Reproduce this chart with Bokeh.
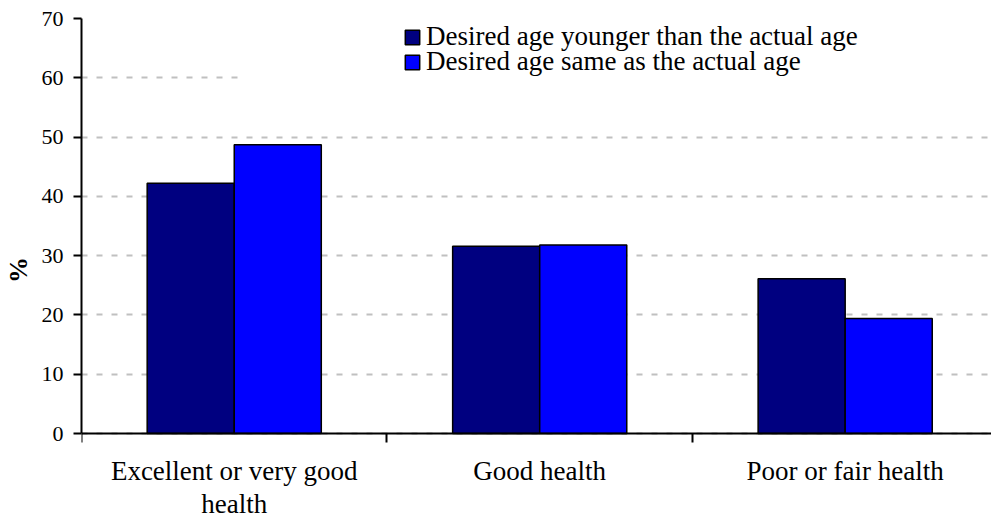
from bokeh.plotting import figure
from bokeh.models import (Range1d, FixedTicker, Legend, LegendItem, BoxAnnotation,
                          ColumnDataSource)
from bokeh.transform import dodge
from bokeh.embed import file_html
from bokeh.resources import INLINE

# ---- data ----
categories = ["Excellent or very good\nhealth", "Good health", "Poor or fair health"]
younger = [42.2, 31.6, 26.1]
same = [48.7, 31.8, 19.4]
y_ticks = [0, 10, 20, 30, 40, 50, 60, 70]
series_names = ["Desired age younger than the actual age",
                "Desired age same as the actual age"]

FONT = "Liberation Serif"
centers = [i + 0.5 for i in range(len(categories))]
src = ColumnDataSource(dict(x=centers, younger=younger, same=same))

# frame spans the whole height; value 0 sits 88px above the bottom
W, H, LEFT, TOP, BOTTOM_GAP, PLOT_H = 991, 521, 81, 18, 88, 415
y_min = -BOTTOM_GAP * 70.0 / PLOT_H

p = figure(width=W, height=H, output_backend="svg", toolbar_location=None,
           x_range=Range1d(0, 2.979), y_range=Range1d(y_min, 70),
           min_border_left=LEFT, min_border_top=TOP, min_border_bottom=0,
           min_border_right=0)
p.outline_line_color = None
p.background_fill_color = "white"

bw = 0.285
r1 = p.vbar(x=dodge("x", -bw / 2, range=p.x_range), top="younger", bottom=0,
            width=bw, source=src, fill_color="#000080", line_color="black",
            line_width=1.5)
r2 = p.vbar(x=dodge("x", bw / 2, range=p.x_range), top="same", bottom=0,
            width=bw, source=src, fill_color="#0000FF", line_color="black",
            line_width=1.5)

# grid
p.xgrid.visible = False
p.ygrid.ticker = FixedTicker(ticks=y_ticks)
p.ygrid.grid_line_color = "#c0c0c0"
p.ygrid.grid_line_width = 2
p.ygrid.grid_line_dash = "6 9"

# y axis
ya = p.yaxis[0]
ya.ticker = FixedTicker(ticks=y_ticks)
ya.bounds = (0, 70)
ya.axis_line_width = 2
ya.axis_line_color = "black"
ya.major_tick_line_width = 2
ya.major_tick_out = 8
ya.major_tick_in = 0
ya.minor_tick_line_color = None
ya.major_label_text_font = FONT
ya.major_label_text_font_size = "22px"
ya.major_label_text_color = "black"
ya.major_label_standoff = 10
ya.axis_label = "%"
ya.axis_label_text_font = FONT
ya.axis_label_text_font_size = "26px"
ya.axis_label_text_font_style = "bold"
ya.axis_label_text_color = "black"
ya.axis_label_standoff = 6

# x axis drawn at value 0: labels at centres, ticks at category boundaries
xa = p.xaxis[0]
xa.fixed_location = 0
xa.ticker = FixedTicker(ticks=centers, minor_ticks=[0, 1, 2, 3])
xa.major_label_overrides = {c: lab for c, lab in zip(centers, categories)}
xa.axis_line_width = 2
xa.axis_line_color = "black"
xa.major_tick_line_color = None
xa.major_tick_out = 0
xa.major_tick_in = 0
xa.minor_tick_line_color = "black"
xa.minor_tick_line_width = 2
xa.minor_tick_out = 9
xa.minor_tick_in = 0
xa.major_label_text_font = FONT
xa.major_label_text_font_size = "27px"
xa.major_label_text_color = "black"
xa.major_label_text_line_height = 1.12
xa.major_label_standoff = 13

# white box behind legend (hides grid line)
box = BoxAnnotation(left=0.53, right=3.0, bottom=55, top=68.5,
                    fill_color="white", fill_alpha=1.0, line_color=None)
p.add_layout(box)


def make_legend(name, rend, y):
    lg = Legend(items=[LegendItem(label=name, renderers=[rend])], location=(322, y))
    lg.border_line_color = None
    lg.background_fill_alpha = 0
    lg.padding = 0
    lg.margin = 0
    lg.spacing = 0
    lg.glyph_width = 18
    lg.glyph_height = 18
    lg.label_standoff = 5
    lg.label_text_font = FONT
    lg.label_text_font_size = "27px"
    lg.label_text_color = "black"
    lg.click_policy = "none"
    return lg


p.add_layout(make_legend(series_names[0], r1, 381 + BOTTOM_GAP), "center")
p.add_layout(make_legend(series_names[1], r2, 356 + BOTTOM_GAP), "center")

open("out.html", "w").write(file_html(p, INLINE))
